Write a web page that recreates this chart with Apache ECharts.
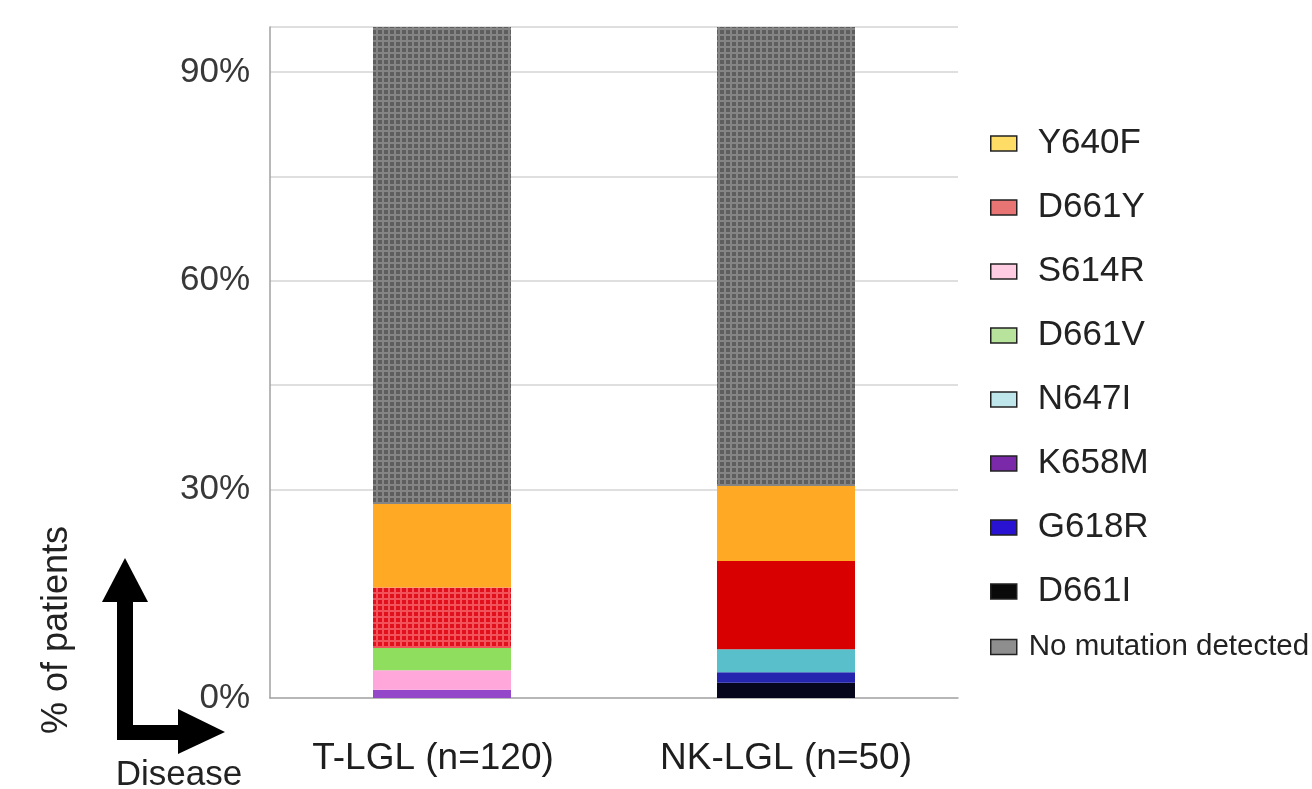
<!DOCTYPE html>
<html>
<head>
<meta charset="utf-8">
<script src="https://cdn.jsdelivr.net/npm/echarts@6/dist/echarts.min.js"></script>
<style>
html,body{margin:0;padding:0;background:#fff;}
#chart{width:1312px;height:789px;}
</style>
</head>
<body>
<div id="chart"></div>
<script>
// ---- data (percent of patients) ----
var categories = ['T-LGL (n=120)', 'NK-LGL (n=50)'];
var yTickLabels = [0, 30, 60, 90];
var D661I = [0, 2.2];
var G618R = [0, 1.5];
var K658M = [1.2, 0];
var N647I = [0, 3.3];
var S614R = [2.8, 0];
var D661V = [3.2, 0];
var D661Y = [8.7, 12.7];
var Y640F = [12.0, 10.8];
var noMutation = [68.6, 66.0];
var axisMax = 96.5;

var FONT = '"Liberation Sans", Arial, Helvetica, sans-serif';

// bar colours (stacked bottom -> top) and legend swatch colours
var seriesDefs = [
  {name: 'D661I', data: D661I, color: '#06061c', legend: '#0a0a0a'},
  {name: 'G618R', data: G618R, color: '#2424ae', legend: '#2a12d2'},
  {name: 'K658M', data: K658M, color: '#9447c8', legend: '#7a2aa8'},
  {name: 'N647I', data: N647I, color: '#58bfcb', legend: '#bfe6ea'},
  {name: 'S614R', data: S614R, color: '#ffa6da', legend: '#ffcce2'},
  {name: 'D661V', data: D661V, color: '#8fde5e', legend: '#b8e39c'},
  {name: 'D661Y', data: D661Y, color: '#d80000', legend: '#e87474'},
  {name: 'Y640F', data: Y640F, color: '#ffa924', legend: '#ffdc66'},
  {name: 'No mutation detected', data: noMutation, color: '#858585', legend: '#8e8e8e',
   decal: {symbol: 'rect', symbolSize: 1, color: '#5e5e5e', dashArrayX: [4, 2], dashArrayY: [4, 2]}}
];
var legendOrder = ['Y640F', 'D661Y', 'S614R', 'D661V', 'N647I', 'K658M', 'G618R', 'D661I'];
var legendLast = ['No mutation detected'];

var series = seriesDefs.map(function (d) {
  var style = {color: d.color};
  if (d.decal) style.decal = d.decal;
  var data = d.data.map(function (v, i) {
    // T-LGL D661Y segment is drawn with a checkered fill in the original
    if (d.name === 'D661Y' && i === 0) {
      return {value: v, itemStyle: {color: '#f2525a',
        decal: {symbol: 'rect', symbolSize: 1, color: '#e2101c', dashArrayX: [4, 2], dashArrayY: [4, 2]}}};
    }
    return v;
  });
  return {
    name: d.name,
    type: 'bar',
    stack: 'total',
    barWidth: 138,
    data: data,
    itemStyle: style,
    emphasis: {disabled: true}
  };
});

function legendItems(list, big) {
  return list.map(function (n) {
    var d = seriesDefs.filter(function (s) { return s.name === n; })[0];
    return {
      name: n,
      itemStyle: {color: d.legend, borderColor: '#222', borderWidth: 1.5, decal: 'none'},
      textStyle: big
        ? {fontSize: 35, lineHeight: 35, padding: [0, 0, 0, 16]}
        : {fontSize: 29.5, lineHeight: 30, padding: [0, 0, 0, 7]}
    };
  });
}

var legendBase = {
  orient: 'vertical',
  left: 985,
  itemWidth: 26,
  itemHeight: 15,
  itemGap: 29,
  icon: 'rect',
  selectedMode: false,
  textStyle: {fontFamily: FONT, color: '#222'}
};

var gridColor = '#d4d4d4';
var chart = echarts.init(document.getElementById('chart'), null, {renderer: 'canvas'});
chart.setOption({
  animation: false,
  backgroundColor: '#ffffff',
  textStyle: {fontFamily: FONT},
  grid: {left: 270, right: 354, top: 27, bottom: 91, containLabel: false},
  legend: [
    Object.assign({}, legendBase, {top: 121, data: legendItems(legendOrder, true)}),
    Object.assign({}, legendBase, {top: 627, data: legendItems(legendLast, false)})
  ],
  xAxis: {
    type: 'category',
    data: categories.map(function (c, i) {
      return i === 0 ? {value: c, textStyle: {padding: [0, 18, 0, 0]}} : c;
    }),
    axisLine: {show: true, lineStyle: {color: '#a0a0a0', width: 1.5}},
    axisTick: {show: false},
    axisLabel: {fontSize: 37, color: '#1e1e1e', margin: 42, fontFamily: FONT}
  },
  yAxis: {
    type: 'value',
    min: 0,
    max: axisMax,
    interval: 15,
    axisLine: {show: true, lineStyle: {color: '#a0a0a0', width: 1.5}},
    axisTick: {show: false},
    axisLabel: {
      fontSize: 35, color: '#383838', margin: 20, fontFamily: FONT,
      showMaxLabel: false,
      formatter: function (v) { return yTickLabels.indexOf(v) >= 0 ? v + '%' : ''; }
    },
    splitLine: {
      show: true,
      showMinLine: true,
      showMaxLine: true,
      lineStyle: {color: ['rgba(0,0,0,0)', 'rgba(0,0,0,0)', gridColor, gridColor, gridColor, gridColor, gridColor, gridColor], width: 1.5}
    }
  },
  series: series,
  graphic: [
    {type: 'text', x: 57, y: 630, rotation: Math.PI / 2,
     style: {text: '% of patients', fontSize: 36, fontFamily: FONT, fill: '#222', align: 'center', verticalAlign: 'middle'}},
    {type: 'text', x: 179, y: 775,
     style: {text: 'Disease', fontSize: 35, fontFamily: FONT, fill: '#222', align: 'center', verticalAlign: 'middle'}},
    {type: 'rect', shape: {x: 117, y: 598, width: 16, height: 142}, style: {fill: '#000'}},
    {type: 'rect', shape: {x: 117, y: 725, width: 64, height: 15}, style: {fill: '#000'}},
    {type: 'polygon', shape: {points: [[102, 602], [148, 602], [125, 558]]}, style: {fill: '#000'}},
    {type: 'polygon', shape: {points: [[178, 709], [178, 754], [225, 732]]}, style: {fill: '#000'}}
  ]
});
</script>
</body>
</html>
